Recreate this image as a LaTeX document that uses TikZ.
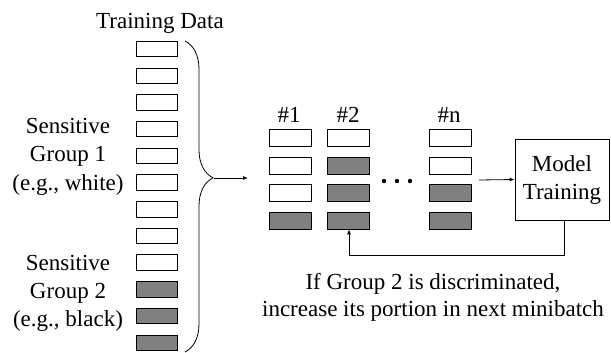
\documentclass[tikz,border=0pt]{standalone}
\usepackage{fontspec}
\setmainfont{Liberation Serif}
\usetikzlibrary{decorations.pathreplacing,arrows.meta}
\definecolor{boxgray}{RGB}{128,128,128}
\begin{document}
\begin{tikzpicture}[x=1pt,y=-1pt,
  wbox/.style={draw=black,line width=0.8pt,fill=white,minimum width=41pt,minimum height=15.5pt,inner sep=0pt},
  gbox/.style={wbox,fill=boxgray},
  mbox/.style={draw=black,line width=0.8pt,fill=white,minimum width=42pt,minimum height=17pt,inner sep=0pt},
  mgbox/.style={mbox,fill=boxgray},
  lbl/.style={font=\fontsize{23}{28}\selectfont,inner sep=0pt,anchor=base},
  conn/.style={line width=0.8pt,-{Latex[length=5pt,width=4pt]}}]
\useasboundingbox (0,0) rectangle (611,353);
% training data column
\foreach \i in {1,...,9} {
  \node[wbox] (t\i) at (156.5,{49+(\i-1)*26.7}) {};
}
\foreach \i in {10,11,12} {
  \node[gbox] (t\i) at (156.5,{49+(\i-1)*26.7}) {};
}
\node[lbl] (title) at (160,29) {Training Data};
\node[lbl] (g1a) at (68,133) {Sensitive};
\node[lbl] (g1b) at (68,161.5) {Group 1};
\node[lbl] (g1c) at (68,190) {(e.g., white)};
\node[lbl] (g2a) at (68,270) {Sensitive};
\node[lbl] (g2b) at (68,298) {Group 2};
\node[lbl] (g2c) at (68,326) {(e.g., black)};
% brace
\coordinate (bt) at (185,41);
\coordinate (bb) at (185,352);
\draw[line width=0.8pt,decorate,decoration={brace,amplitude=28pt,aspect=0.44}] (bt) -- (bb);
\coordinate (btip) at (214,178);
\coordinate (aend) at (248,178);
\draw[conn] (btip) -- (aend);
% minibatches
\node[lbl] (h1) at (289,123) {\#1};
\node[lbl] (h2) at (348,123) {\#2};
\node[lbl] (hn) at (449,123) {\#n};
\node[mbox] (a1) at (290,138) {};
\node[mbox] (a2) at (290,166) {};
\node[mbox] (a3) at (290,193) {};
\node[mgbox] (a4) at (290,220.5) {};
\node[mbox] (b1) at (348,138) {};
\node[mgbox] (b2) at (348,166) {};
\node[mgbox] (b3) at (348,193) {};
\node[mgbox] (b4) at (348,220.5) {};
\node[mbox] (c1) at (450,138) {};
\node[mbox] (c2) at (450,166) {};
\node[mgbox] (c3) at (450,193) {};
\node[mgbox] (c4) at (450,220.5) {};
% dots
\foreach \k/\x in {1/384,2/397,3/410} {
  \fill (\x,181) circle (2.2pt);
}
\coordinate (mstart) at (479,180);
\node[draw=black,line width=0.8pt,minimum width=94pt,minimum height=81pt,inner sep=0pt] (model) at (562,179.5) {};
\node[lbl] (m1) at (562,171) {Model};
\node[lbl] (m2) at (562,199) {Training};
\draw[conn] (mstart) -- (model.west);
\draw[conn] (model.south -| 564,0) |- (349,255) -- (b4.south -| 349,0);
\node[lbl] (note1) at (433,289) {If Group 2 is discriminated,};
\node[lbl] (note2) at (433,316) {increase its portion in next minibatch};
\end{tikzpicture}
\end{document}
